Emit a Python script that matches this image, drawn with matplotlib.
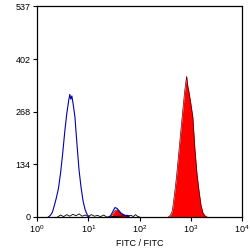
import numpy as np
import matplotlib.pyplot as plt

plt.rcParams['font.family'] = ['Liberation Sans', 'DejaVu Sans']
plt.rcParams['mathtext.default'] = 'regular'

# histogram channels (log10 of FITC) and counts
blue_logx = [0.22, 0.26, 0.30, 0.34, 0.38, 0.42, 0.46, 0.50, 0.54, 0.58, 0.62,
             0.64, 0.66, 0.68, 0.70, 0.74, 0.78, 0.82, 0.86, 0.90, 0.94, 0.98, 1.02]
blue_counts = [0, 4, 12, 30, 50, 74, 112, 160, 215, 262, 298,
               312, 300, 308, 292, 255, 185, 120, 75, 40, 18, 6, 0]

blue_bump_logx = [1.40, 1.44, 1.48, 1.52, 1.56, 1.60, 1.64, 1.68, 1.72, 1.76, 1.80]
blue_bump_counts = [0, 4, 14, 24, 22, 16, 10, 6, 4, 2, 0]

red_logx = [2.56, 2.60, 2.64, 2.68, 2.72, 2.76, 2.80, 2.84, 2.88, 2.90, 2.92,
            2.94, 2.96, 3.00, 3.04, 3.08, 3.12, 3.16, 3.20, 3.24, 3.28, 3.32]
red_counts = [0, 4, 15, 55, 100, 155, 210, 265, 318, 340, 358,
              335, 322, 290, 255, 175, 112, 68, 30, 10, 3, 0]

red_bump_logx = [1.44, 1.48, 1.52, 1.56, 1.60, 1.64, 1.68, 1.72, 1.76, 1.80]
red_bump_counts = [0, 8, 16, 18, 14, 9, 7, 4, 5, 0]

noise_logx = [0.40, 0.46, 0.52, 0.58, 0.64, 0.70, 0.76, 0.82, 0.88, 0.94, 1.00,
              1.06, 1.12, 1.18, 1.24, 1.30, 1.36, 1.84, 1.88, 1.92, 1.96, 2.00]
noise_counts = [0, 5, 1, 6, 2, 7, 3, 8, 2, 5, 1,
                6, 2, 4, 1, 5, 0, 4, 1, 6, 2, 0]

yticks = [0, 134, 268, 402, 537]
xlabel = 'FITC / FITC'

fig = plt.figure(figsize=(2.5, 2.5), dpi=100)
ax = fig.add_axes([0.148, 0.132, 0.820, 0.844])

tf = lambda v: 10 ** np.array(v)

# red sample (filled) with a thin dark edge
for lx, c in [(red_logx, red_counts), (red_bump_logx, red_bump_counts)]:
    ax.fill_between(tf(lx), c, color='#ff0000', lw=0)
    ax.plot(tf(lx), c, color='#500000', lw=0.5)

# baseline noise
ax.plot(tf(noise_logx), noise_counts, color='black', lw=0.6)

# blue control outline
for lx, c in [(blue_logx, blue_counts), (blue_bump_logx, blue_bump_counts)]:
    ax.plot(tf(lx), c, color='#0000b0', lw=0.8)

ax.set_xscale('log')
ax.set_xlim(1, 1e4)
ax.set_ylim(0, 537)
ax.set_yticks(yticks)
ax.set_yticklabels([str(v) for v in yticks])
ax.set_xticks([1, 10, 100, 1000, 10000])
ax.set_xticklabels(['$10^{%d}$' % i for i in range(5)])
ax.xaxis.set_minor_locator(plt.NullLocator())
ax.tick_params(labelsize=6.5, length=3, width=0.8, pad=1.5, colors='black')
for s in ax.spines.values():
    s.set_linewidth(0.9)
ax.set_xlabel(xlabel, fontsize=6.5, labelpad=3)

fig.savefig('out.png', dpi=100)
